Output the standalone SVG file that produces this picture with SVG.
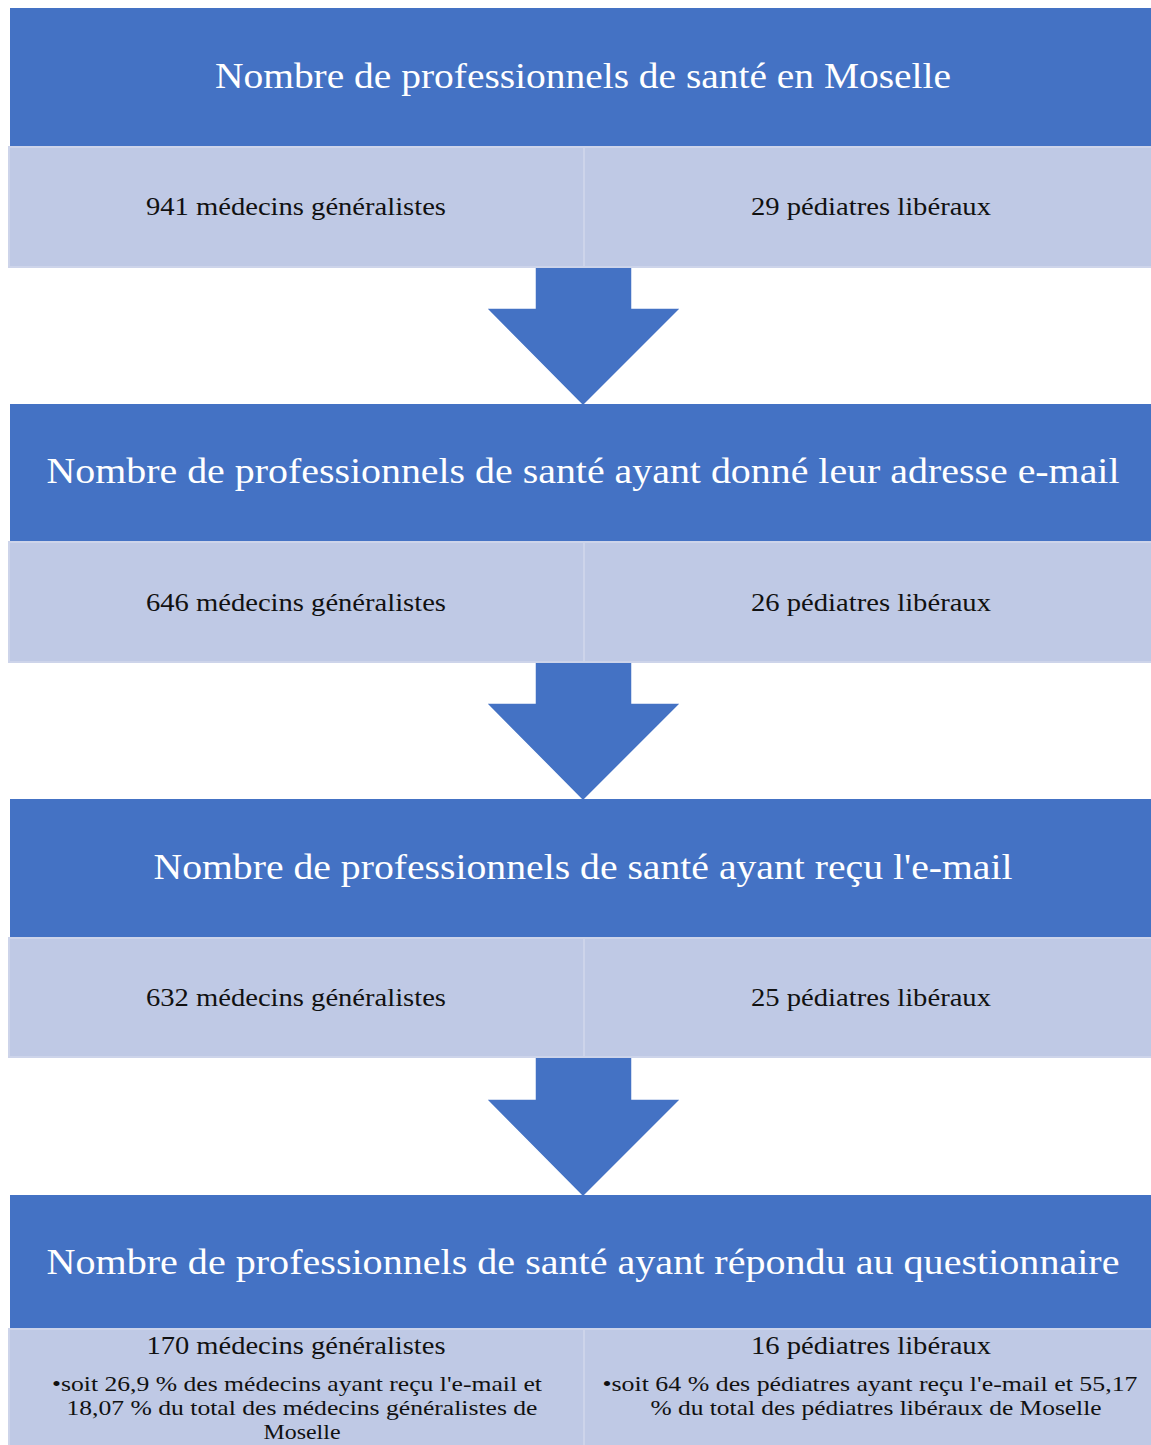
<svg xmlns="http://www.w3.org/2000/svg" width="1151" height="1445" viewBox="0 0 1151 1445">
<style>
.hdr{fill:#4472C4}
.sub{fill:#BFC9E5;stroke:#CDD4EA;stroke-width:2}
.div{stroke:#D3D9ED;stroke-width:2}
.arr{fill:#4472C4;stroke:#FFFFFF;stroke-width:1.5}
text{font-family:"Liberation Serif","Times New Roman",serif;text-anchor:middle}
.ht{fill:#FFFFFF;font-size:35px}
.st{fill:#111111;font-size:25px}
.bt{fill:#111111;font-size:21.5px}
</style>
<rect width="1151" height="1445" fill="#FFFFFF"/>
<g id="connectors">
<polygon class="arr" points="535,267 632,267 632,308 681,308 583,406 486,308 535,308"/>
<polygon class="arr" points="535,662 632,662 632,703 681,703 583,801 486,703 535,703"/>
<polygon class="arr" points="535,1057 632,1057 632,1099 681,1099 583,1197 486,1099 535,1099"/>
</g>
<g id="node1">
<rect class="hdr" x="10" y="8" width="1145" height="139"/>
<text class="ht" x="583" y="88" textLength="736" lengthAdjust="spacingAndGlyphs">Nombre de professionnels de santé en Moselle</text>
</g>
<g id="node1a">
<rect class="sub" x="9" y="147" width="575" height="120"/>
<text class="st" x="296" y="215" textLength="300" lengthAdjust="spacingAndGlyphs">941 médecins généralistes</text>
</g>
<g id="node1b">
<rect class="sub" x="584" y="147" width="570" height="120"/>
<text class="st" x="871" y="215" textLength="240" lengthAdjust="spacingAndGlyphs">29 pédiatres libéraux</text>
</g>
<g id="node2">
<rect class="hdr" x="10" y="404" width="1145" height="138"/>
<text class="ht" x="583" y="483" textLength="1073" lengthAdjust="spacingAndGlyphs">Nombre de professionnels de santé ayant donné leur adresse e-mail</text>
</g>
<g id="node2a">
<rect class="sub" x="9" y="542" width="575" height="120"/>
<text class="st" x="296" y="611" textLength="300" lengthAdjust="spacingAndGlyphs">646 médecins généralistes</text>
</g>
<g id="node2b">
<rect class="sub" x="584" y="542" width="570" height="120"/>
<text class="st" x="871" y="611" textLength="240" lengthAdjust="spacingAndGlyphs">26 pédiatres libéraux</text>
</g>
<g id="node3">
<rect class="hdr" x="10" y="799" width="1145" height="139"/>
<text class="ht" x="583" y="879" textLength="859" lengthAdjust="spacingAndGlyphs">Nombre de professionnels de santé ayant reçu l'e-mail</text>
</g>
<g id="node3a">
<rect class="sub" x="9" y="938" width="575" height="119"/>
<text class="st" x="296" y="1006" textLength="300" lengthAdjust="spacingAndGlyphs">632 médecins généralistes</text>
</g>
<g id="node3b">
<rect class="sub" x="584" y="938" width="570" height="119"/>
<text class="st" x="871" y="1006" textLength="240" lengthAdjust="spacingAndGlyphs">25 pédiatres libéraux</text>
</g>
<g id="node4">
<rect class="hdr" x="10" y="1195" width="1145" height="134"/>
<text class="ht" x="583" y="1274" textLength="1073" lengthAdjust="spacingAndGlyphs">Nombre de professionnels de santé ayant répondu au questionnaire</text>
</g>
<g id="node4a">
<rect class="sub" x="9" y="1329" width="575" height="120"/>
<text class="st" x="296" y="1354" textLength="299" lengthAdjust="spacingAndGlyphs">170 médecins généralistes</text>
<text class="bt" x="297" y="1391" textLength="490" lengthAdjust="spacingAndGlyphs">•soit 26,9 % des médecins ayant reçu l'e-mail et</text>
<text class="bt" x="302" y="1415" textLength="471" lengthAdjust="spacingAndGlyphs">18,07 % du total des médecins généralistes de</text>
<text class="bt" x="302" y="1439" textLength="77" lengthAdjust="spacingAndGlyphs">Moselle</text>
</g>
<g id="node4b">
<rect class="sub" x="584" y="1329" width="570" height="120"/>
<text class="st" x="871" y="1354" textLength="240" lengthAdjust="spacingAndGlyphs">16 pédiatres libéraux</text>
<text class="bt" x="870" y="1391" textLength="535" lengthAdjust="spacingAndGlyphs">•soit 64 % des pédiatres ayant reçu l'e-mail et 55,17</text>
<text class="bt" x="876" y="1415" textLength="451" lengthAdjust="spacingAndGlyphs">% du total des pédiatres libéraux de Moselle</text>
</g>
</svg>
